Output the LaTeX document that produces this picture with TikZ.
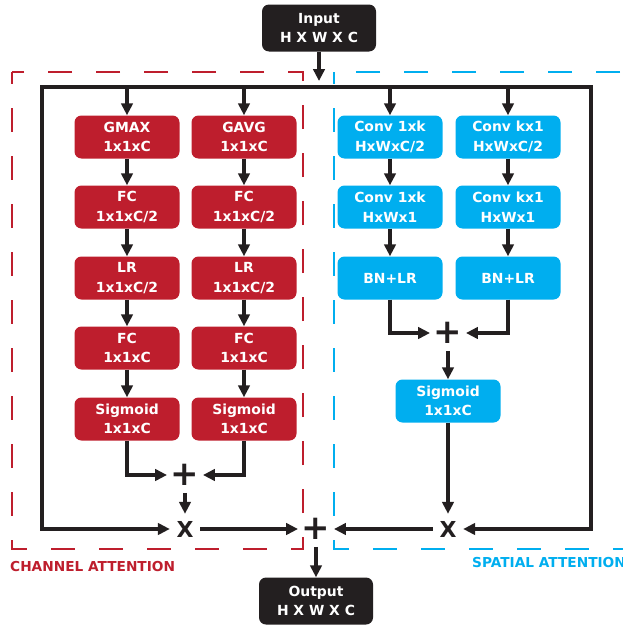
\documentclass[tikz,border=0pt]{standalone}
\usepackage{fontspec}
\setmainfont{DejaVu Sans}
\usetikzlibrary{arrows.meta}
\definecolor{attred}{HTML}{BE1E2D}
\definecolor{attblue}{HTML}{00AEEF}
\definecolor{attblack}{HTML}{231F20}

\begin{document}
\begin{tikzpicture}[x=1pt,y=-1pt,>={Triangle[width=11.5pt,length=12pt]},
		box/.style={rounded corners=7pt,minimum width=105pt,minimum height=43pt,inner sep=0pt,align=center,text=white,font=\fontsize{13.9}{19.5}\selectfont\bfseries},
		redbox/.style={box,fill=attred},
		bluebox/.style={box,fill=attblue},
		iobox/.style={box,fill=attblack,minimum width=114pt,minimum height=47pt},
		op/.style={circle,minimum size=30pt,inner sep=0pt,text=attblack,font=\fontsize{34}{34}\selectfont\bfseries},
		mul/.style={op,font=\fontsize{22}{22}\selectfont\bfseries},
		arr/.style={->,draw=attblack,line width=4pt},
		dashframe/.style={line width=2pt,dash pattern=on 24pt off 24pt,dash phase=12pt},
		lbl/.style={anchor=west,inner sep=0pt,font=\fontsize{13.7}{16}\selectfont\bfseries}]
		\useasboundingbox (0,0) rectangle (623,629);
		\draw[dashframe,attred] (12,72) rectangle (303,549);
		\draw[dashframe,attblue] (334,72) rectangle (690,549);
		\node[lbl,text=attred] (chanlbl) at (10,567) {CHANNEL ATTENTION};
		\node[lbl,text=attblue] (spatlbl) at (472,563) {SPATIAL ATTENTION};
		\node[iobox] (in) at (319,28) {Input\\H X W X C};
		\node[iobox] (out) at (316,601) {Output\\H X W X C};
		\coordinate (tl) at (42,87);
		\coordinate (tr) at (591,87);
		\node[redbox] (gmax) at (127,137) {GMAX\\1x1xC};
		\node[redbox] (fcA1) at (127,207) {FC\\1x1xC/2};
		\node[redbox] (lrA) at (127,278) {LR\\1x1xC/2};
		\node[redbox] (fcA2) at (127,348) {FC\\1x1xC};
		\node[redbox] (sgA) at (127,419) {Sigmoid\\1x1xC};
		\node[redbox] (gavg) at (244,137) {GAVG\\1x1xC};
		\node[redbox] (fcB1) at (244,207) {FC\\1x1xC/2};
		\node[redbox] (lrB) at (244,278) {LR\\1x1xC/2};
		\node[redbox] (fcB2) at (244,348) {FC\\1x1xC};
		\node[redbox] (sgB) at (244,419) {Sigmoid\\1x1xC};
		\node[bluebox] (cvA1) at (390,137) {Conv 1xk\\HxWxC/2};
		\node[bluebox] (cvA2) at (390,207) {Conv 1xk\\HxWx1};
		\node[bluebox] (bnA) at (390,278) {BN+LR};
		\node[bluebox] (cvB1) at (508,137) {Conv kx1\\HxWxC/2};
		\node[bluebox] (cvB2) at (508,207) {Conv kx1\\HxWx1};
		\node[bluebox] (bnB) at (508,278) {BN+LR};
		\node[bluebox] (sgS) at (448,401) {Sigmoid\\1x1xC};
		\node[op] (plusC) at (185,475) {+};
		\node[mul] (mulC) at (185,529) {X};
		\node[op] (plusS) at (448,333) {+};
		\node[mul] (mulS) at (448,529) {X};
		\node[op] (plusO) at (316,529) {+};
		\draw[arr,shorten >=6pt] (in) -- (in |- tl);
		\draw[arr,<->] (mulC) -- (tl |- mulC) -- (tl) -- (tr) -- (tr |- mulS) -- (mulS);
		\draw[arr] (gmax |- tl) -- (gmax);
		\draw[arr] (gavg |- tl) -- (gavg);
		\draw[arr] (cvA1 |- tl) -- (cvA1);
		\draw[arr] (cvB1 |- tl) -- (cvB1);
		\draw[arr] (gmax) -- (fcA1);
		\draw[arr] (fcA1) -- (lrA);
		\draw[arr] (lrA) -- (fcA2);
		\draw[arr] (fcA2) -- (sgA);
		\draw[arr] (gavg) -- (fcB1);
		\draw[arr] (fcB1) -- (lrB);
		\draw[arr] (lrB) -- (fcB2);
		\draw[arr] (fcB2) -- (sgB);
		\draw[arr] (sgA) |- (plusC);
		\draw[arr] (sgB) |- (plusC);
		\draw[arr] (plusC) -- (mulC);
		\draw[arr] (cvA1) -- (cvA2);
		\draw[arr] (cvA2) -- (bnA);
		\draw[arr] (cvB1) -- (cvB2);
		\draw[arr] (cvB2) -- (bnB);
		\draw[arr] (bnA) |- (plusS);
		\draw[arr] (bnB) |- (plusS);
		\draw[arr] (plusS) -- (sgS);
		\draw[arr] (sgS) -- (mulS);
		\draw[arr] (mulC) -- (plusO);
		\draw[arr] (mulS) -- (plusO);
		\draw[arr] (plusO) -- (out);
	\end{tikzpicture}
\end{document}
